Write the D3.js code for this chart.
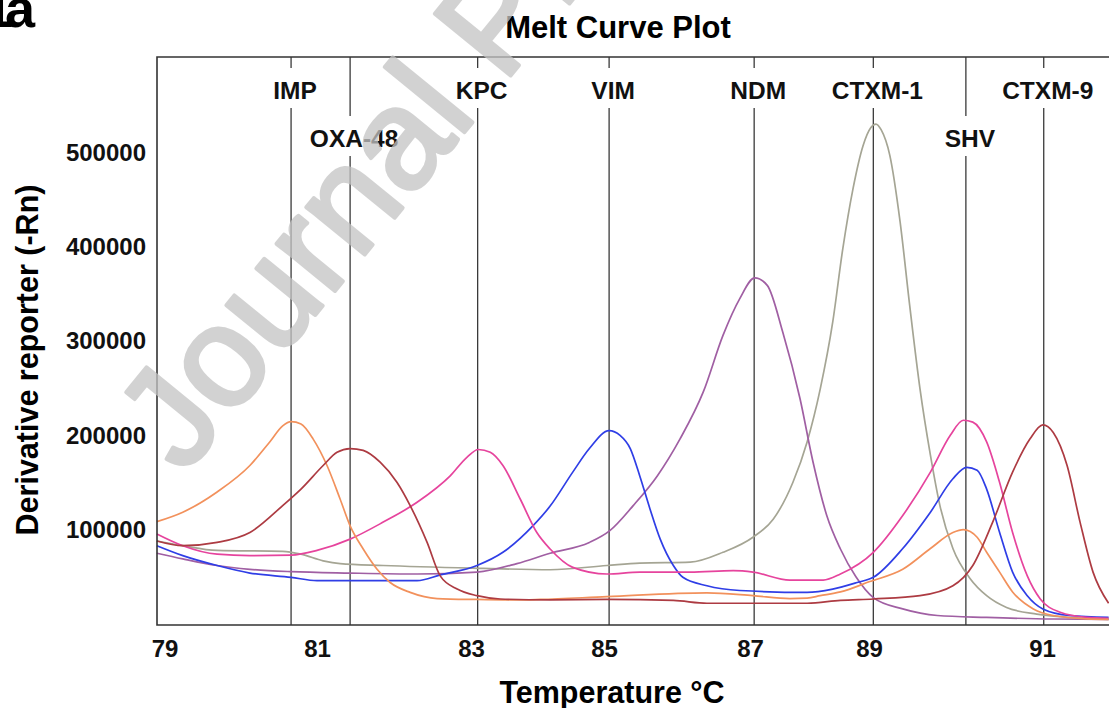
<!DOCTYPE html>
<html>
<head>
<meta charset="utf-8">
<title>Melt Curve Plot</title>
<script src="https://d3js.org/d3.v7.min.js"></script>
<style>
    body {
        margin: 0;
        background: #fff;
    }
    svg {
        display: block;
        font-family: "Liberation Sans", Arial, sans-serif;
    }
</style>
</head>
<body>
<div id="chart"></div>
<script>
    // axis ticks
    const xTicks = [79, 81, 83, 85, 87, 89, 91];
    const yTicks = [100000, 200000, 300000, 400000, 500000];

    // marker lines (melting temperature of each target)
    const genes = ["IMP", "OXA-48", "KPC", "VIM", "NDM", "CTXM-1", "SHV", "CTXM-9"];
    const geneTm = [80.66, 81.43, 83.1, 85.07, 87.07, 89.05, 90.12, 91.02];
    const geneRow = [0, 1, 0, 0, 0, 0, 1, 0];

    // derivative curves, [temperature, -Rn']
    const impShv = [[78.90,108500],[79.24,118500],[79.69,140000],[80.12,168000],[80.38,193000],[80.55,210000],[80.66,214500],[80.79,212000],[80.95,196000],[81.13,168000],[81.30,132500],[81.43,104000],[81.60,79500],[81.78,58000],[81.95,44000],[82.21,33500],[82.56,27000],[83.09,26000],[83.69,25500],[84.04,26000],[85.04,29000],[86.41,33000],[87.05,30000],[87.67,27000],[87.96,27500],[88.18,30000],[88.52,34000],[89.01,45000],[89.39,58000],[89.71,80000],[89.97,97000],[90.09,100000],[90.25,92000],[90.36,76000],[90.51,55000],[90.66,34000],[90.90,16000],[91.13,9000],[91.52,5500],[91.77,5000]];
    const oxaCtxm9 = [[78.90,88000],[79.24,83000],[79.69,86500],[80.12,97000],[80.55,125500],[80.79,143000],[81.08,168000],[81.26,182000],[81.43,186000],[81.60,184000],[81.82,171500],[82.04,150000],[82.21,125500],[82.43,86500],[82.60,51000],[82.82,37000],[83.09,30000],[83.44,26500],[84.19,25500],[85.04,26000],[85.95,25000],[86.41,22000],[87.96,22000],[88.52,25000],[89.05,26500],[89.59,30000],[89.97,40500],[90.20,62000],[90.43,108000],[90.66,161000],[90.86,196000],[91.01,211000],[91.13,203000],[91.29,168000],[91.44,108000],[91.59,55000],[91.77,22000]];
    const kpcShv = [[78.90,95500],[79.24,83000],[79.69,74000],[80.12,72500],[80.66,73000],[81.00,78000],[81.43,90000],[81.86,108000],[82.30,129000],[82.73,157000],[82.95,177000],[83.11,185000],[83.29,182000],[83.48,168000],[83.74,132500],[83.99,97000],[84.19,79500],[84.53,60000],[85.04,53000],[85.49,55000],[86.18,55000],[86.77,56500],[87.05,55000],[87.67,46500],[88.23,46500],[88.52,53000],[89.05,76000],[89.39,115000],[89.71,161000],[89.94,200000],[90.09,216000],[90.20,214000],[90.36,193000],[90.51,150000],[90.66,97000],[90.83,51000],[90.98,26500],[91.21,12500],[91.52,7000],[91.77,6000]];
    const vimShv = [[78.90,83000],[79.24,72500],[79.69,62000],[80.12,54000],[80.66,49500],[81.00,46000],[82.30,46000],[82.60,52000],[83.09,62000],[83.48,76000],[83.93,104000],[84.19,125000],[84.53,161000],[84.78,186000],[85.07,205000],[85.22,200000],[85.36,186000],[85.49,157000],[85.63,122000],[85.77,90000],[85.95,62000],[86.08,49500],[86.41,40500],[86.86,35500],[87.96,33500],[88.39,37000],[88.80,44000],[89.05,49500],[89.39,80000],[89.71,118500],[89.97,154000],[90.13,166000],[90.25,163000],[90.36,143000],[90.51,97000],[90.66,55000],[90.83,30000],[91.01,16000],[91.32,9000],[91.77,7000]];
    const ndm = [[78.90,75000],[79.24,69000],[79.69,62000],[80.12,58000],[80.66,55500],[81.43,54000],[82.30,53000],[83.09,55000],[83.69,64000],[84.19,75000],[84.78,86500],[85.08,99000],[85.40,125500],[85.73,157000],[86.04,196000],[86.36,246000],[86.63,306000],[86.86,345000],[87.08,367000],[87.29,359000],[87.55,309500],[87.84,239000],[88.06,171500],[88.29,115000],[88.52,79500],[88.78,50000],[89.05,28000],[89.39,16000],[89.79,9000],[90.36,7000],[91.13,5300],[91.77,5000]];
    const ctxm1 = [[78.90,88000],[79.24,83000],[79.69,78000],[80.55,77000],[80.79,74000],[81.08,67000],[81.30,64000],[81.86,62000],[83.18,59000],[84.19,57500],[85.04,62000],[85.49,64500],[86.18,65500],[86.63,76000],[87.05,92000],[87.39,111000],[87.72,150000],[87.96,193000],[88.18,249000],[88.39,320000],[88.56,398000],[88.73,461000],[88.90,507000],[89.02,526000],[89.08,530000],[89.14,524000],[89.24,497000],[89.36,426000],[89.47,338000],[89.59,249000],[89.71,179000],[89.82,125500],[89.97,80000],[90.17,48000],[90.36,30000],[90.59,17500],[90.94,10500],[91.32,7000],[91.77,5000]];

    const seriesData = [ctxm1, ndm, vimShv, kpcShv, impShv, oxaCtxm9];
    const seriesColors = ["#a5a594", "#a05fa3", "#2f3ee6", "#e6449d", "#f2915c", "#ad3b42"];

    const width = 1109;
    const height = 708;
    const plotLeft = 157, plotTop = 57, plotBottom = 625;

    const svg = d3.select('#chart')
        .append('svg')
        .attr('width', width)
        .attr('height', height);

    // the instrument axis is not evenly spaced, so a piecewise scale
    const x = d3.scaleLinear()
        .domain(xTicks)
        .range([164.5, 317, 471, 604, 750, 869, 1042]);

    const y = d3.scaleLinear()
        .domain([0, 600000])
        .range([plotBottom - 1, plotTop + 1]);

    // panel letter and title
    svg.append('text')
        .attr('x', -17)
        .attr('y', 27)
        .attr('font-size', 54)
        .attr('font-weight', 'bold')
        .attr('letter-spacing', -8)
        .text('1a');

    svg.append('text')
        .attr('x', 618)
        .attr('y', 38)
        .attr('text-anchor', 'middle')
        .attr('font-size', 31)
        .attr('font-weight', 'bold')
        .text('Melt Curve Plot');

    // marker lines with labels cut into them
    const markers = svg.append('g');
    genes.forEach((g, i) => {
        const gx = x(geneTm[i]);
        markers.append('line')
            .attr('x1', gx).attr('x2', gx)
            .attr('y1', plotTop).attr('y2', plotBottom)
            .attr('stroke', '#3a3a3a')
            .attr('stroke-width', 1.3);
    });
    genes.forEach((g, i) => {
        const gx = x(geneTm[i]) + 4;
        const base = geneRow[i] ? 147 : 99;
        const bg = markers.append('rect').attr('fill', '#fff');
        const t = markers.append('text')
            .attr('x', gx)
            .attr('y', base)
            .attr('text-anchor', 'middle')
            .attr('font-size', 24.5)
            .attr('font-weight', 'bold')
            .attr('fill', '#111')
            .text(g);
        const w = t.node().getComputedTextLength();
        bg.attr('x', gx - w / 2 - 3)
            .attr('y', base - 31)
            .attr('width', w + 6)
            .attr('height', 40);
    });

    // curves
    const line = d3.line()
        .x(d => x(d[0]))
        .y(d => y(d[1]))
        .curve(d3.curveMonotoneX);

    svg.append('g')
        .selectAll('path')
        .data(seriesData)
        .join('path')
        .attr('d', line)
        .attr('fill', 'none')
        .attr('stroke', (d, i) => seriesColors[i])
        .attr('stroke-width', 1.7);

    // frame: top, left and bottom (right side runs off the picture)
    svg.append('path')
        .attr('d', `M${width},${plotTop}H${plotLeft}V${plotBottom}H${width}`)
        .attr('fill', 'none')
        .attr('stroke', '#333')
        .attr('stroke-width', 1.6);

    // axes
    const yAxis = svg.append('g')
        .attr('transform', `translate(${plotLeft},0)`)
        .call(d3.axisLeft(y).tickValues(yTicks).tickSize(0).tickPadding(11).tickFormat(d3.format('d')));
    yAxis.select('.domain').remove();
    yAxis.selectAll('text')
        .attr('font-size', 24)
        .attr('font-weight', 'bold')
        .attr('font-family', '"Liberation Sans", Arial, sans-serif')
        .attr('fill', '#111');

    const xAxis = svg.append('g')
        .attr('transform', `translate(0,${plotBottom})`)
        .call(d3.axisBottom(x).tickValues(xTicks).tickSize(0).tickPadding(15));
    xAxis.select('.domain').remove();
    xAxis.selectAll('text')
        .attr('font-size', 24)
        .attr('font-weight', 'bold')
        .attr('font-family', '"Liberation Sans", Arial, sans-serif')
        .attr('fill', '#111');

    svg.append('text')
        .attr('x', 612)
        .attr('y', 703)
        .attr('text-anchor', 'middle')
        .attr('font-size', 30.5)
        .attr('font-weight', 'bold')
        .text('Temperature °C');

    svg.append('text')
        .attr('transform', 'translate(38,360) rotate(-90)')
        .attr('text-anchor', 'middle')
        .attr('font-size', 30.5)
        .attr('font-weight', 'bold')
        .text('Derivative reporter (-Rn)');

    // journal watermark on top
    svg.append('text')
        .attr('transform', 'translate(184,476) rotate(-50.8)')
        .attr('font-size', 142)
        .attr('fill', '#c4c4c4')
        .attr('stroke', '#c4c4c4')
        .attr('stroke-width', 4)
        .attr('stroke-linejoin', 'round')
        .attr('opacity', 0.75)
        .text('Journal Pre-proof');
</script>
</body>
</html>
